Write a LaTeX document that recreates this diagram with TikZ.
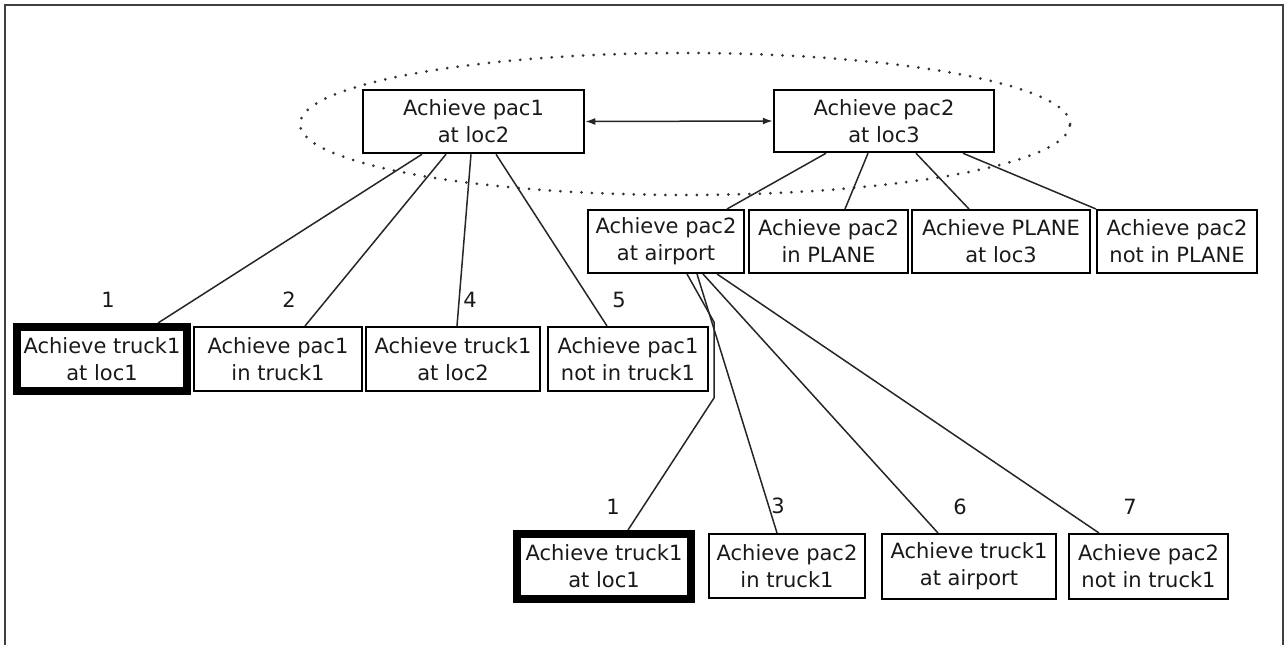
\documentclass[tikz,border=0pt]{standalone}
\usepackage{fontspec}
\setmainfont{DejaVu Sans}
\usetikzlibrary{arrows.meta}
\begin{document}
\begin{tikzpicture}[x=1pt,y=-1pt,
  box/.style={draw=black, line width=2pt, inner sep=0pt, align=center,
    font=\fontsize{21}{27}\selectfont, text=black!90},
  topbox/.style={box, line width=2.5pt},
  boldbox/.style={box, line width=8pt},
  num/.style={font=\fontsize{21}{27}\selectfont, inner sep=0pt, text=black!90},
  link/.style={draw=black!85, line width=1.5pt},
  dots/.style={draw=black!80, line width=3pt, line cap=round, dash pattern=on 0pt off 10.5pt}]

\useasboundingbox (0,0) rectangle (1288,645);
\draw[line width=1.5pt, black!75] (5,645) -- (5,5) -- (1283,5) -- (1283,645);

% grouping ellipse
\draw[dots] (685,124) ellipse [x radius=385pt, y radius=71pt];

% top goals
\node[topbox, minimum width=221pt, minimum height=63pt] (A) at (473.5,121.5) {Achieve pac1\\at loc2};
\node[topbox, minimum width=220pt, minimum height=62pt] (B) at (884,121) {Achieve pac2\\at loc3};
\draw[link, {Latex[length=10pt,width=7pt]}-{Latex[length=10pt,width=7pt]}] (A.east) -- (B.west);

% left subgoals
\node[boldbox, minimum width=170pt, minimum height=64pt] (L1) at (102,359) {Achieve truck1\\at loc1};
\node[box, minimum width=168pt, minimum height=64pt] (L2) at (278,359) {Achieve pac1\\in truck1};
\node[box, minimum width=174pt, minimum height=64pt] (L3) at (453,359) {Achieve truck1\\at loc2};
\node[box, minimum width=160pt, minimum height=64pt] (L4) at (628,359) {Achieve pac1\\not in truck1};

\node[num] (nL1) at (108,300) {1};
\node[num] (nL2) at (289,300) {2};
\node[num] (nL3) at (470,300) {4};
\node[num] (nL4) at (619,300) {5};

\draw[link] ([xshift=-51.5pt]A.south) -- ([xshift=56pt]L1.north);
\draw[link] ([xshift=-27.5pt]A.south) -- ([xshift=27pt]L2.north);
\draw[link] ([xshift=-2.5pt]A.south) -- ([xshift=4pt]L3.north);
\draw[link] ([xshift=22.5pt]A.south) -- ([xshift=-21pt]L4.north);

% right subgoals
\node[box, minimum width=156pt, minimum height=63pt] (R1) at (666,241.5) {Achieve pac2\\at airport};
\node[box, minimum width=159pt, minimum height=63pt] (R2) at (828.5,241.5) {Achieve pac2\\in PLANE};
\node[box, minimum width=178pt, minimum height=63pt] (R3) at (1001,241.5) {Achieve PLANE\\at loc3};
\node[box, minimum width=160pt, minimum height=63pt] (R4) at (1177,241.5) {Achieve pac2\\not in PLANE};

\draw[link] ([xshift=-58pt]B.south) -- ([xshift=61pt]R1.north);
\draw[link] ([xshift=-16pt]B.south) -- ([xshift=16.5pt]R2.north);
\draw[link] ([xshift=32pt]B.south) -- ([xshift=-32pt]R3.north);
\draw[link] ([xshift=79pt]B.south) -- (R4.north west);

% bottom subgoals
\node[boldbox, minimum width=174pt, minimum height=65pt] (M1) at (604,566.5) {Achieve truck1\\at loc1};
\node[box, minimum width=156pt, minimum height=64pt] (M2) at (787,566) {Achieve pac2\\in truck1};
\node[box, minimum width=174pt, minimum height=65pt] (M3) at (969,566.5) {Achieve truck1\\at airport};
\node[box, minimum width=159pt, minimum height=65pt] (M4) at (1148.5,566.5) {Achieve pac2\\not in truck1};

\node[num] (nM1) at (613,507) {1};
\node[num] (nM2) at (778,506) {3};
\node[num] (nM3) at (960,507) {6};
\node[num] (nM4) at (1130,507) {7};

\coordinate (k1) at (714,322);
\coordinate (k2) at (714,398);
\draw[link] ([xshift=21pt]R1.south) -- (k1) -- (k2) -- ([xshift=24pt]M1.north);
\draw[link] ([xshift=31pt]R1.south) -- ([xshift=-10pt]M2.north);
\draw[link] ([xshift=37pt]R1.south) -- ([xshift=-31pt]M3.north);
\draw[link] ([xshift=51pt]R1.south) -- ([xshift=-49.5pt]M4.north);
\end{tikzpicture}
\end{document}
